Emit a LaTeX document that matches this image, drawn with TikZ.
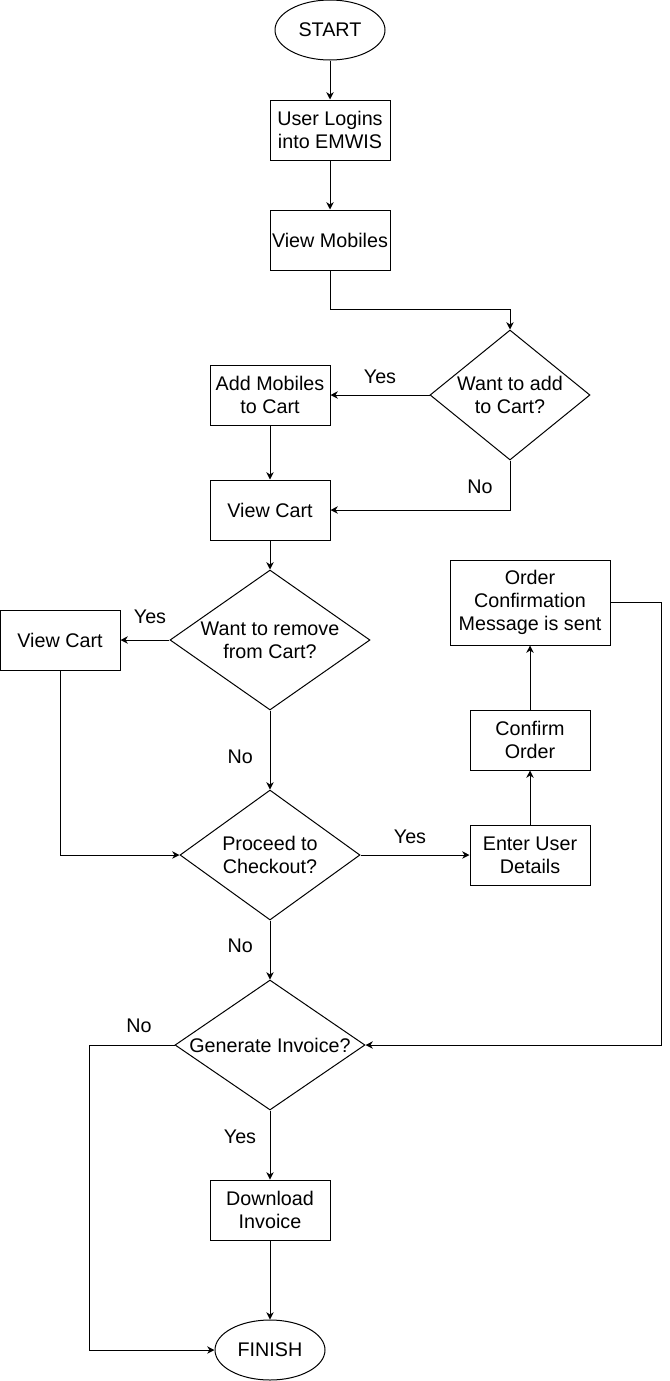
\documentclass[tikz,border=0pt]{standalone}
\usepackage{fontspec}
\setmainfont{Liberation Sans}
\usetikzlibrary{arrows.meta,positioning,shapes.geometric}

\begin{document}
\begin{tikzpicture}[>={Stealth[length=5.5pt,width=5.5pt]}, on grid, line width=0.75pt,
	font=\fontsize{14.8}{17.5}\selectfont,
	box/.style={draw, rectangle, minimum width=90pt, minimum height=45pt, align=center, inner sep=1pt},
	term/.style={draw, ellipse, minimum width=82.5pt, minimum height=45pt, inner sep=0pt},
	choice/.style={draw, diamond, align=center, inner sep=0pt},
	lbl/.style={inner sep=0pt}]
	\useasboundingbox (0,0) rectangle (501.75pt,-1035.75pt);

	\node[term] (start) at (247.5pt,-22.5pt) {START};
	\node[box] (login) [below=75pt of start] {User Logins\\into EMWIS};
	\node[box] (mobiles) [below=82.5pt of login] {View Mobiles};
	\node[choice, minimum width=120pt, minimum height=97.5pt, shape aspect=1.23] (addq) [below right=116.25pt and 135pt of mobiles] {Want to add\\to Cart?};
	\node[box] (addcart) [left=180pt of addq] {Add Mobiles\\to Cart};
	\node[box] (cart) [below=86.25pt of addcart] {View Cart};
	\node[choice, minimum width=150pt, minimum height=105pt, shape aspect=1.43] (removeq) [below=97.5pt of cart] {Want to remove\\from Cart?};
	\node[box] (cartb) [left=157.5pt of removeq] {View Cart};
	\node[choice, minimum width=135pt, minimum height=97.5pt, shape aspect=1.385] (checkq) [below=161.25pt of removeq] {Proceed to\\Checkout?};
	\node[box] (details) [right=195pt of checkq] {Enter User\\Details};
	\node[box] (confirm) [above=86.25pt of details] {Confirm\\Order};
	\node[box, minimum width=120pt, minimum height=63.75pt] (sent) [above=103.125pt of confirm] {Order\\Confirmation\\Message is sent};
	\node[choice, minimum width=142.5pt, minimum height=97.5pt, shape aspect=1.46] (invq) [below=142.5pt of checkq] {Generate Invoice?};
	\node[box] (download) [below=123.75pt of invq] {Download\\Invoice};
	\node[term] (finish) [below=105pt of download] {FINISH};

	\path[->]	(start) edge (login)
				(login) edge (mobiles)
				(addq) edge node[lbl, yshift=14pt] {Yes} (addcart)
				(addcart) edge (cart)
				(cart) edge (removeq)
				(removeq) edge node[lbl, xshift=3.75pt, yshift=17.75pt] {Yes} (cartb)
				(removeq) edge node[lbl, xshift=-22.25pt, yshift=-4.75pt] {No} (checkq)
				(checkq) edge node[lbl, xshift=-3.75pt, yshift=14pt] {Yes} (details)
				(details) edge (confirm)
				(confirm) edge (sent)
				(checkq) edge node[lbl, xshift=-22.25pt, yshift=3.4pt] {No} (invq)
				(invq) edge node[lbl, xshift=-22.5pt, yshift=6.5pt] {Yes} (download)
				(download) edge (finish);

	\draw[->] (mobiles.south) -- ++(0,-29.25pt) -| (addq.north);
	\draw[->] (addq.south) |- node[lbl, xshift=-22.5pt, yshift=17.5pt] {No} (cart.east);
	\draw[->] (cartb.south) |- (checkq.west);
	\draw[->] (sent.east) -- ++(38pt,0) |- (invq.east);
	\draw[->] (invq.west) -- node[lbl, xshift=5.25pt, yshift=14.75pt] {No} ++(-63.75pt,0) |- (finish.west);
\end{tikzpicture}
\end{document}
